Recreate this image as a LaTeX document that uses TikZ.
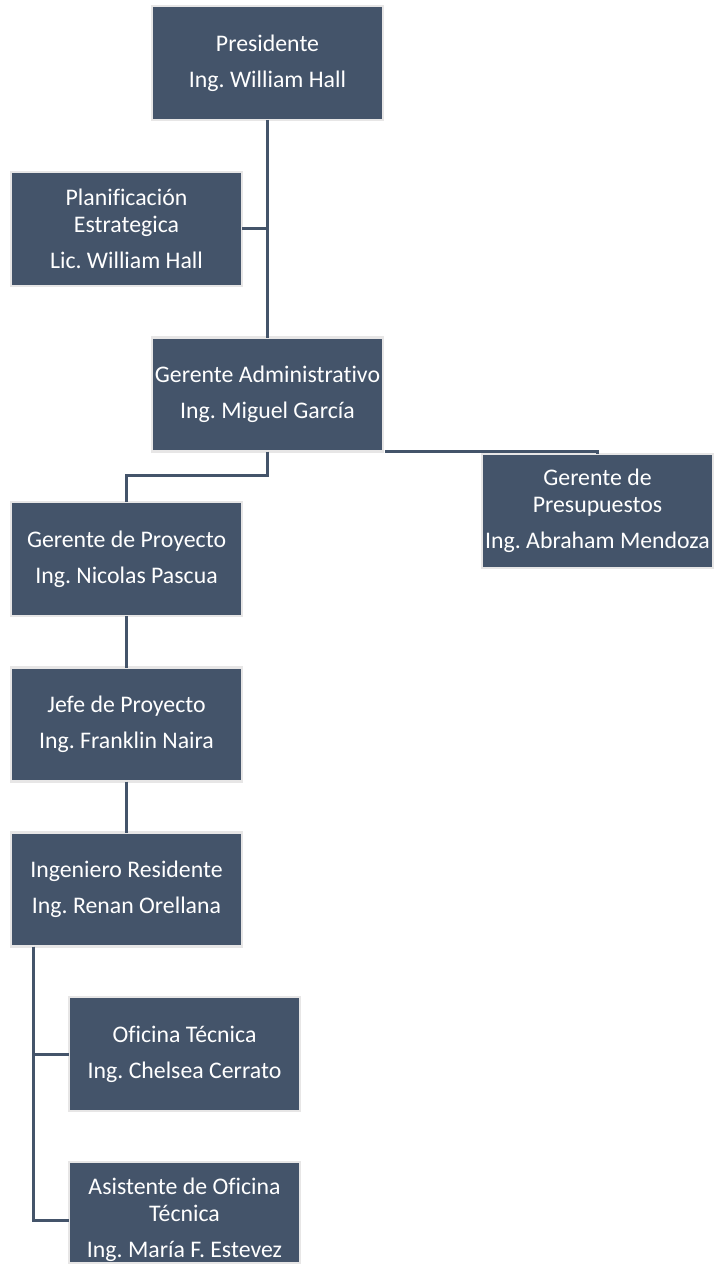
\documentclass[tikz,border=0pt]{standalone}
\usepackage{fontspec}
\setmainfont{Carlito}[Ligatures=NoCommon]
\usetikzlibrary{calc}
\frenchspacing
\definecolor{boxfill}{HTML}{44546A}
\definecolor{boxedge}{HTML}{E7E6E6}
\definecolor{linecol}{HTML}{44546A}
\tikzset{
  orgbox/.style={draw=boxedge, line width=2.5pt, fill=boxfill, text=white,
    minimum width=231pt, minimum height=114pt, inner sep=0pt, outer sep=0pt,
    align=center, font=\fontsize{23.8}{27}\selectfont},
  link/.style={draw=linecol, line width=3pt}
}
\begin{document}
\begin{tikzpicture}[x=1pt,y=-1pt]
\useasboundingbox[fill=white] (0,0) rectangle (713,1273);
\node[orgbox] (pres) at (267.5,63) {Presidente\\[9pt]Ing. William Hall};
\node[orgbox] (plan) at (126.5,229) {Planificación\\Estrategica\\[9pt]Lic. William Hall};
\node[orgbox] (adm) at (267.5,394.5) {Gerente Administrativo\\[9pt]Ing. Miguel García};
\node[orgbox] (presu) at (597.5,511) {Gerente de\\Presupuestos\\[9pt]Ing. Abraham Mendoza};
\node[orgbox] (gproy) at (126.5,559) {Gerente de Proyecto\\[9pt]Ing. Nicolas Pascua};
\node[orgbox] (jefe) at (126.5,724.5) {Jefe de Proyecto\\[9pt]Ing. Franklin Naira};
\node[orgbox] (resid) at (126.5,889.5) {Ingeniero Residente\\[9pt]Ing. Renan Orellana};
\node[orgbox] (ofi) at (184.5,1054) {Oficina Técnica\\[9pt]Ing. Chelsea Cerrato};
\node[orgbox, minimum height=101pt, text height=60pt, text depth=31pt] (asis) at (184.5,1212.5)
  {\begin{tabular}{@{}c@{}}Asistente de Oficina\\Técnica\\[9pt]Ing. María F. Estevez\end{tabular}};

\coordinate (resleft) at ([xshift=-93.5pt]resid.south);
\coordinate (drop) at ($(adm.south)+(0,24)$);

\path[link] (pres.south) -- (adm.north);
\path[link] (plan.east) -- (plan.east -| pres.south);
\path[link] (adm.south) -- (drop) -| (gproy.north);
\path[link] ([xshift=2pt]adm.south east) -- (adm.south east -| presu.north) -- (presu.north);
\path[link] (gproy.south) -- (jefe.north);
\path[link] (jefe.south) -- (resid.north);
\path[link] (resleft) |- (ofi.west);
\path[link] (resleft) |- ([yshift=-7.5pt]asis.west);
\end{tikzpicture}
\end{document}
